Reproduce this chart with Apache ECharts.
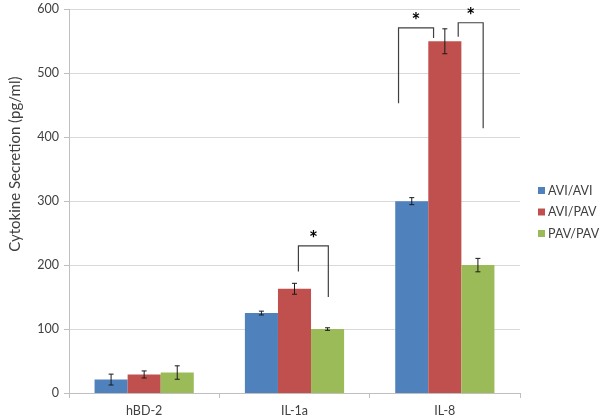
<!DOCTYPE html>
<html><head><meta charset="utf-8">
<script src="https://cdn.jsdelivr.net/npm/echarts@6/dist/echarts.min.js"></script>
<style>html,body{margin:0;padding:0;background:#fff}#c{width:600px;height:420px}</style>
</head><body><div id="c"></div>
<script>
const categories = ['hBD-2', 'IL-1a', 'IL-8'];
const seriesNames = ['AVI/AVI', 'AVI/PAV', 'PAV/PAV'];
const avgAVI_AVI = [21, 125, 300];
const avgAVI_PAV = [29, 163, 550];
const avgPAV_PAV = [32, 100, 200];
const errAVI_AVI = [8.5, 3, 5.5];
const errAVI_PAV = [5.5, 8.5, 19.5];
const errPAV_PAV = [10.5, 2, 10.5];
const yTicks = [0, 100, 200, 300, 400, 500, 600];
// significance brackets: [category, leftOffset, rightOffset, leftBottom, top, rightBottom]
const brackets = [
  [1, 0.026, 0.225, 190, 230, 150],
  [2, -0.308, -0.075, 453, 571, 555],
  [2, 0.089, 0.255, 557, 579, 414]
];
const colors = ['#4F81BD', '#C0504D', '#9BBB59'];
const values = [avgAVI_AVI, avgAVI_PAV, avgPAV_PAV];
const errs = [errAVI_AVI, errAVI_PAV, errPAV_PAV];
const FONT = 'Lato';
const BARW = 0.22;

const chart = echarts.init(document.getElementById('c'), null, {renderer: 'canvas'});

const barSeries = seriesNames.map((n, i) => ({
  name: n, type: 'bar', data: values[i], barWidth: (BARW*100)+'%', barGap: '0%',
  itemStyle: {color: colors[i]}, z: 2
}));

const errData = [];
values.forEach((vals, si) => vals.forEach((v, ci) => errData.push([ci, v, errs[si][ci], si])));

const errSeries = {
  type: 'custom', name: 'err', z: 5, silent: true,
  data: errData,
  encode: {x: 0, y: 1},
  renderItem: function(params, api) {
    const ci = api.value(0), v = api.value(1), e = api.value(2), si = api.value(3);
    const bw = api.size([1, 0])[0] * BARW;
    const c = api.coord([ci, v]);
    const x = c[0] + (si - 1) * bw;
    const top = api.coord([ci, v + e])[1];
    const bot = api.coord([ci, v - e])[1];
    const cap = 2.5;
    const st = {stroke: '#1a1a1a', lineWidth: 1};
    return {type: 'group', children: [
      {type: 'line', shape: {x1: x, y1: top, x2: x, y2: bot}, style: st},
      {type: 'line', shape: {x1: x-cap, y1: top, x2: x+cap, y2: top}, style: st},
      {type: 'line', shape: {x1: x-cap, y1: bot, x2: x+cap, y2: bot}, style: st}
    ]};
  }
};

const bracketSeries = {
  type: 'custom', name: 'sig', z: 6, silent: true,
  data: brackets,
  encode: {x: 0, y: 4},
  renderItem: function(params, api) {
    const ci = api.value(0), lo = api.value(1), ro = api.value(2);
    const lb = api.value(3), tp = api.value(4), rb = api.value(5);
    const cw = api.size([1, 0])[0];
    const cx = api.coord([ci, 0])[0];
    const xl = cx + lo * cw, xr = cx + ro * cw;
    const yt = api.coord([ci, tp])[1];
    const yl = api.coord([ci, lb])[1];
    const yr = api.coord([ci, rb])[1];
    const st = {stroke: '#404040', lineWidth: 1.2, fill: null};
    return {type: 'group', children: [
      {type: 'polyline', shape: {points: [[xl, yl], [xl, yt], [xr, yt], [xr, yr]]}, style: st},
      {type: 'text', x: (xl + xr) / 2, y: yt + 4, style: {text: '*', font: 'bold 21px ' + FONT, fill: '#000', align: 'center', verticalAlign: 'bottom'}}
    ]};
  }
};

chart.setOption({
  animation: false,
  textStyle: {fontFamily: FONT},
  grid: {left: 62, right: 80, top: 9.3, bottom: 27},
  legend: {
    data: seriesNames, orient: 'vertical', left: 533, top: 179, itemWidth: 7, itemHeight: 7,
    itemGap: 8.5, icon: 'rect',
    textStyle: {fontFamily: FONT, fontSize: 12.5, color: '#404040', padding: [0, 0, 0, -2]}
  },
  xAxis: {
    type: 'category', data: categories,
    axisLine: {lineStyle: {color: '#bfbfbf'}},
    axisTick: {show: true, length: 5, lineStyle: {color: '#bfbfbf'}},
    axisLabel: {fontFamily: FONT, fontSize: 12.5, color: '#404040', margin: 11}
  },
  yAxis: {
    type: 'value', min: 0, max: 600, interval: 100,
    name: 'Cytokine Secretion (pg/ml)', nameLocation: 'middle', nameGap: 46,
    nameTextStyle: {fontFamily: FONT, fontSize: 15, color: '#404040', padding: [0, 0, 0, 74]},
    axisLine: {show: true, lineStyle: {color: '#bfbfbf'}},
    axisTick: {show: true, length: 5, lineStyle: {color: '#bfbfbf'}},
    axisLabel: {fontFamily: FONT, fontSize: 12.5, color: '#404040', margin: 10,
      formatter: v => yTicks.includes(v) ? String(v) : ''},
    splitLine: {lineStyle: {color: '#d9d9d9'}}
  },
  series: [...barSeries, errSeries, bracketSeries]
});
</script></body></html>
